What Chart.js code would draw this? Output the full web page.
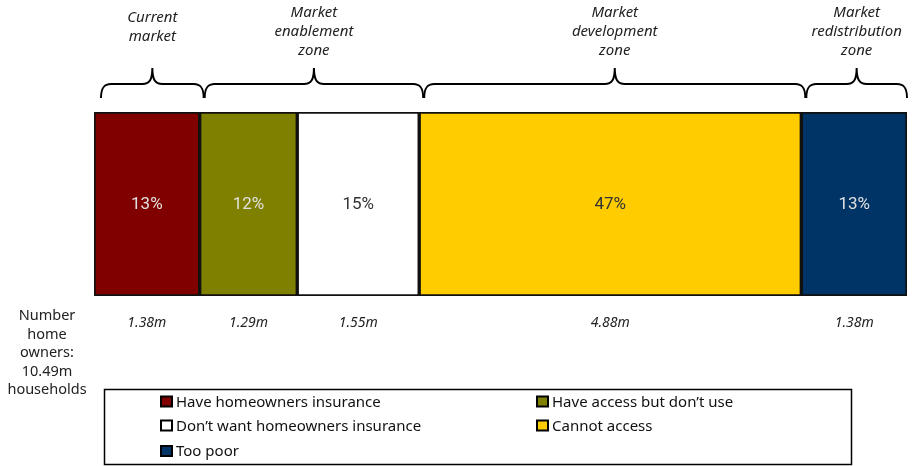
<!DOCTYPE html>
<html>
<head>
<meta charset="utf-8">
<script src="https://cdn.jsdelivr.net/npm/chart.js@4/dist/chart.umd.min.js"></script>
<style>
  html, body { margin: 0; padding: 0; background: #fff; }
  #wrap { width: 919px; height: 466px; }
</style>
</head>
<body>
<div id="wrap"><canvas id="chart" width="919" height="466"></canvas></div>
<script>
// Homeowner segments, share of all home-owning households (%)
const segments = ['Have homeowners insurance', 'Have access but don\u2019t use', 'Don\u2019t want homeowners insurance', 'Cannot access', 'Too poor'];
const shares = [13, 12, 15, 47, 13];
const households = ['1.38m', '1.29m', '1.55m', '4.88m', '1.38m'];
const fills = ['#800000', '#808000', '#ffffff', '#ffcc00', '#003366'];
const shareTextColors = ['#e0e0e0', '#e0e0e0', '#333333', '#333333', '#e0e0e0'];

// Zones spanning consecutive segments (start index, end index inclusive)
const zoneLabels = [['Current', 'market'], ['Market', 'enablement', 'zone'], ['Market', 'development', 'zone'], ['Market', 'redistribution', 'zone']];
const zoneSpans = [[0, 0], [1, 2], [3, 3], [4, 4]];

const totalLabel = ['Number', 'home', 'owners:', '10.49m', 'households'];

const UI_FONT = '"Noto Sans", "DejaVu Sans", sans-serif';

function segmentEdges(scale) {
  const edges = [0];
  shares.forEach(v => edges.push(edges[edges.length - 1] + v));
  return edges.map(v => scale.getPixelForValue(v));
}

// Curly brace from x1 to x2, pointing up at the middle
function drawBrace(ctx, x1, x2, yBottom, yTop) {
  const mid = (x1 + x2) / 2;
  const yLine = yBottom - 14;
  const r = 10;
  ctx.beginPath();
  ctx.moveTo(x1, yBottom);
  ctx.bezierCurveTo(x1, yLine + 4, x1 + 3, yLine, x1 + r, yLine);
  ctx.lineTo(mid - r, yLine);
  ctx.bezierCurveTo(mid - 3, yLine, mid, yLine - 4, mid, yTop);
  ctx.bezierCurveTo(mid, yLine - 4, mid + 3, yLine, mid + r, yLine);
  ctx.lineTo(x2 - r, yLine);
  ctx.bezierCurveTo(x2 - 3, yLine, x2, yLine + 4, x2, yBottom);
  ctx.stroke();
}

const annotations = {
  id: 'annotations',
  afterDraw(chart) {
    const ctx = chart.ctx;
    const xs = chart.scales.x;
    const edges = segmentEdges(xs);
    const area = chart.chartArea;
    const midY = (area.top + area.bottom) / 2;

    ctx.save();
    // percentages inside the bar
    ctx.textAlign = 'center';
    ctx.textBaseline = 'middle';
    ctx.font = '17px Roboto, sans-serif';
    shares.forEach((v, i) => {
      ctx.fillStyle = shareTextColors[i];
      ctx.fillText(v + '%', (edges[i] + edges[i + 1]) / 2, midY + 1);
    });

    // household counts under the bar
    ctx.fillStyle = '#222';
    ctx.font = 'italic 14px ' + UI_FONT;
    households.forEach((t, i) => {
      ctx.fillText(t, (edges[i] + edges[i + 1]) / 2, area.bottom + 27);
    });

    // total on the left
    ctx.font = '14.5px ' + UI_FONT;
    totalLabel.forEach((t, i) => ctx.fillText(t, 47, 316 + i * 18.5));

    // zone braces and captions
    ctx.strokeStyle = '#000';
    ctx.lineWidth = 2;
    zoneSpans.forEach((span, i) => {
      const x1 = edges[span[0]] + (i === 0 ? 7 : 5);
      const x2 = edges[span[1] + 1] + (i === zoneSpans.length - 1 ? 0 : 4);
      drawBrace(ctx, x1, x2, area.top - 14, area.top - 44);
      const cx = (x1 + x2) / 2;
      const lines = zoneLabels[i];
      const top = lines.length === 2 ? 18 : 13;
      ctx.fillStyle = '#222';
      ctx.font = 'italic 15px ' + UI_FONT;
      lines.forEach((t, k) => ctx.fillText(t, cx, top + k * 19));
    });

    // legend box
    ctx.lineWidth = 1.5;
    ctx.strokeStyle = '#000';
    ctx.strokeRect(104.5, 389.5, 747, 75);
    ctx.textAlign = 'left';
    ctx.font = '15px ' + UI_FONT;
    const cols = [161, 537];
    const rows = [401.5, 425.5, 451];
    segments.forEach((label, i) => {
      const x = cols[i % 2];
      const y = rows[Math.floor(i / 2)];
      ctx.fillStyle = fills[i];
      ctx.fillRect(x, y - 5, 11, 10);
      ctx.lineWidth = 2;
      ctx.strokeRect(x, y - 5, 11, 10);
      ctx.fillStyle = '#111';
      ctx.fillText(label, x + 15, y + 1);
    });
    ctx.restore();
  }
};

new Chart(document.getElementById('chart'), {
  type: 'bar',
  data: {
    labels: [''],
    datasets: segments.map((label, i) => ({
      label,
      data: [shares[i]],
      backgroundColor: fills[i],
      borderColor: '#111',
      borderWidth: 2,
      borderSkipped: false,
      barPercentage: 1,
      categoryPercentage: 1
    }))
  },
  options: {
    indexAxis: 'y',
    responsive: false,
    animation: false,
    layout: { padding: { left: 94, right: 12, top: 112, bottom: 170 } },
    plugins: { legend: { display: false }, tooltip: { enabled: false } },
    scales: {
      x: { stacked: true, min: 0, max: 100, display: false },
      y: { stacked: true, display: false }
    }
  },
  plugins: [annotations]
});
</script>
</body>
</html>
